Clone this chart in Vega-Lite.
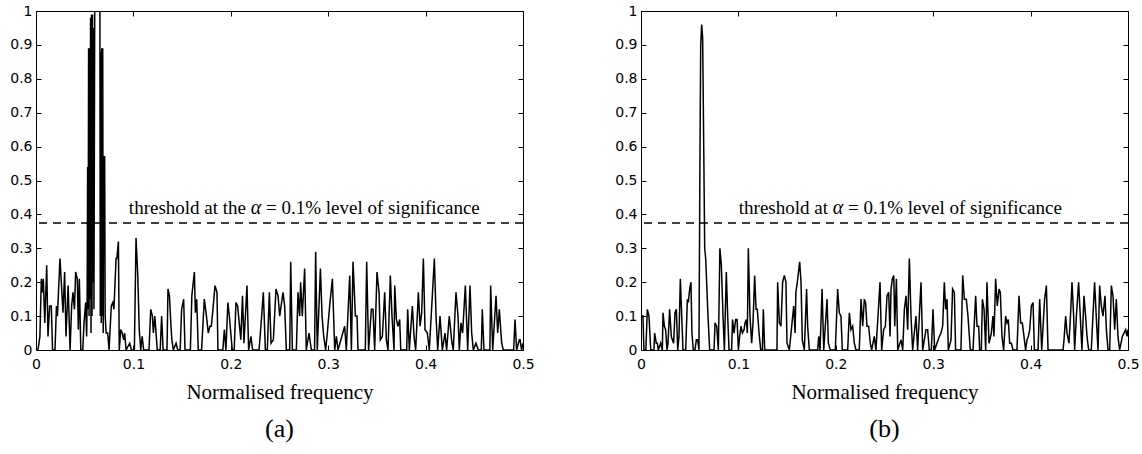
{
"$schema": "https://vega.github.io/schema/vega-lite/v6.json",
"background": "white",
"padding": {"left": 5, "right": 5, "top": 3, "bottom": 5},
"config": {
  "view": {"stroke": "#000", "strokeWidth": 1},
  "axis": {"domain": false, "grid": false, "labelFlush": false, "labelFont": "DejaVu Sans", "labelFontSize": 14, "labelColor": "#000", "tickColor": "#000", "tickSize": -5, "tickWidth": 1, "titleFont": "Liberation Serif", "titleFontSize": 21, "titleFontWeight": "normal", "titleColor": "#000"},
  "title": {"font": "Liberation Serif", "fontSize": 26, "fontWeight": "normal", "color": "#000"}
},
"datasets": {
"thr": [{"threshold": 0.375}],
"a": [
{"f":0,"v":0},{"f":0.002,"v":0},{"f":0.004,"v":0.04},{"f":0.0055,"v":0.21},{"f":0.0065,"v":0.17},{"f":0.0075,"v":0.21},{"f":0.009,"v":0.08},{"f":0.011,"v":0.25},{"f":0.0123,"v":0.04},{"f":0.014,"v":0.13},{"f":0.0157,"v":0.13},{"f":0.017,"v":0},{"f":0.0195,"v":0},{"f":0.021,"v":0.13},{"f":0.022,"v":0.1},{"f":0.0246,"v":0.27},{"f":0.026,"v":0.2},{"f":0.0277,"v":0.11},{"f":0.0294,"v":0.23},{"f":0.0308,"v":0.04},{"f":0.033,"v":0.19},{"f":0.035,"v":0},{"f":0.0366,"v":0.13},{"f":0.038,"v":0.17},{"f":0.0395,"v":0.12},{"f":0.0407,"v":0.23},{"f":0.0424,"v":0.21},{"f":0.0435,"v":0.06},{"f":0.0445,"v":0.21},{"f":0.046,"v":0},{"f":0.048,"v":0},{"f":0.0493,"v":0.08},{"f":0.051,"v":0.14},{"f":0.052,"v":0.04},
{"f":0.0525,"v":0.15},{"f":0.053,"v":0.54},{"f":0.0535,"v":0.12},{"f":0.054,"v":0.89},{"f":0.0545,"v":0.1},{"f":0.055,"v":0.89},{"f":0.0555,"v":0.15},{"f":0.056,"v":0.98},{"f":0.0565,"v":0.05},{"f":0.057,"v":0.99},{"f":0.0575,"v":0.1},{"f":0.058,"v":0.99},{"f":0.0585,"v":0.2},{"f":0.059,"v":0.95},{"f":0.0595,"v":0.12},{"f":0.0605,"v":1.25},{"f":0.062,"v":1.6},{"f":0.0635,"v":1.6},{"f":0.0655,"v":1.25},{"f":0.066,"v":0.1},{"f":0.0665,"v":0.88},{"f":0.067,"v":0.08},{"f":0.0675,"v":0.89},{"f":0.068,"v":0.1},{"f":0.0685,"v":0.89},{"f":0.069,"v":0.05},{"f":0.0695,"v":0.57},{"f":0.0705,"v":0.57},{"f":0.071,"v":0.1},{"f":0.072,"v":0.05},
{"f":0.0736,"v":0.05},{"f":0.075,"v":0},{"f":0.0773,"v":0.13},{"f":0.0788,"v":0.14},{"f":0.08,"v":0.12},{"f":0.0822,"v":0.27},{"f":0.083,"v":0.27},{"f":0.0846,"v":0.32},{"f":0.0855,"v":0},{"f":0.087,"v":0.06},{"f":0.0885,"v":0.05},{"f":0.09,"v":0.03},{"f":0.091,"v":0.05},{"f":0.0925,"v":0},{"f":0.0962,"v":0.02},{"f":0.098,"v":0},{"f":0.101,"v":0},{"f":0.1027,"v":0.33},{"f":0.1045,"v":0.22},{"f":0.106,"v":0.06},{"f":0.1075,"v":0},{"f":0.109,"v":0.04},{"f":0.1105,"v":0},{"f":0.116,"v":0},{"f":0.1178,"v":0.12},{"f":0.1195,"v":0.1},{"f":0.1205,"v":0.05},{"f":0.122,"v":0.1},{"f":0.123,"v":0.06},{"f":0.1245,"v":0},{"f":0.1275,"v":0},{"f":0.129,"v":0.1},{"f":0.1305,"v":0},{"f":0.1345,"v":0},{"f":0.1355,"v":0.18},{"f":0.137,"v":0.16},{"f":0.1386,"v":0.07},{"f":0.1395,"v":0.03},{"f":0.141,"v":0},{"f":0.1438,"v":0.02},{"f":0.1455,"v":0},{"f":0.148,"v":0},{"f":0.1495,"v":0.12},{"f":0.1516,"v":0.15},{"f":0.153,"v":0},{"f":0.1585,"v":0},{"f":0.16,"v":0.16},{"f":0.1626,"v":0.23},{"f":0.1636,"v":0.11},{"f":0.165,"v":0.15},{"f":0.1666,"v":0},{"f":0.17,"v":0},{"f":0.1728,"v":0.15},{"f":0.175,"v":0.1},{"f":0.1769,"v":0.05},{"f":0.1786,"v":0.07},{"f":0.18,"v":0.07},{"f":0.182,"v":0.13},{"f":0.1838,"v":0.19},{"f":0.1858,"v":0.17},{"f":0.1868,"v":0},{"f":0.1918,"v":0},{"f":0.1934,"v":0.06},{"f":0.195,"v":0},{"f":0.197,"v":0.14},{"f":0.1985,"v":0.1},{"f":0.2,"v":0.05},{"f":0.2015,"v":0},{"f":0.2035,"v":0},{"f":0.2053,"v":0.14},{"f":0.207,"v":0.13},{"f":0.209,"v":0.07},{"f":0.2103,"v":0.03},{"f":0.212,"v":0.16},{"f":0.2135,"v":0.02},{"f":0.2166,"v":0.19},{"f":0.2183,"v":0},{"f":0.2207,"v":0.04},{"f":0.2224,"v":0},{"f":0.229,"v":0},{"f":0.2309,"v":0.07},{"f":0.2334,"v":0.17},{"f":0.2355,"v":0},{"f":0.2375,"v":0},{"f":0.2396,"v":0.17},{"f":0.2413,"v":0.02},{"f":0.2437,"v":0.03},{"f":0.2464,"v":0.18},{"f":0.2485,"v":0.16},{"f":0.2502,"v":0.1},{"f":0.2536,"v":0.17},{"f":0.2553,"v":0.13},{"f":0.257,"v":0},{"f":0.2605,"v":0},{"f":0.2615,"v":0.26},{"f":0.2632,"v":0},{"f":0.2673,"v":0},{"f":0.269,"v":0.17},{"f":0.2707,"v":0.1},{"f":0.2717,"v":0.2},{"f":0.2734,"v":0.1},{"f":0.2758,"v":0.24},{"f":0.2775,"v":0},{"f":0.2803,"v":0.05},{"f":0.2827,"v":0},{"f":0.286,"v":0},{"f":0.2871,"v":0.29},{"f":0.2888,"v":0},{"f":0.292,"v":0.24},{"f":0.2937,"v":0.1},{"f":0.2954,"v":0.04},{"f":0.2974,"v":0},{"f":0.2991,"v":0.05},{"f":0.3015,"v":0.13},{"f":0.3043,"v":0.21},{"f":0.3067,"v":0},{"f":0.3084,"v":0.04},{"f":0.3101,"v":0},{"f":0.3169,"v":0.07},{"f":0.3186,"v":0},{"f":0.3221,"v":0.22},{"f":0.3238,"v":0},{"f":0.3255,"v":0.26},{"f":0.3279,"v":0.1},{"f":0.3296,"v":0.1},{"f":0.3306,"v":0},{"f":0.3381,"v":0},{"f":0.3395,"v":0.26},{"f":0.3415,"v":0},{"f":0.3443,"v":0.12},{"f":0.346,"v":0.12},{"f":0.3477,"v":0},{"f":0.3501,"v":0.23},{"f":0.3522,"v":0.17},{"f":0.3535,"v":0.03},{"f":0.3556,"v":0.04},{"f":0.358,"v":0.17},{"f":0.3597,"v":0.03},{"f":0.3614,"v":0},{"f":0.3638,"v":0.22},{"f":0.3655,"v":0.1},{"f":0.3676,"v":0},{"f":0.3683,"v":0.19},{"f":0.37,"v":0.09},{"f":0.3717,"v":0.07},{"f":0.3734,"v":0.09},{"f":0.3745,"v":0},{"f":0.3806,"v":0},{"f":0.3816,"v":0.12},{"f":0.3833,"v":0},{"f":0.3864,"v":0.13},{"f":0.3881,"v":0.04},{"f":0.3898,"v":0},{"f":0.3926,"v":0.17},{"f":0.3943,"v":0.07},{"f":0.396,"v":0.11},{"f":0.3977,"v":0.27},{"f":0.3994,"v":0.06},{"f":0.4018,"v":0.05},{"f":0.4038,"v":0},{"f":0.4069,"v":0.16},{"f":0.409,"v":0.27},{"f":0.4107,"v":0.1},{"f":0.4124,"v":0},{"f":0.4148,"v":0.1},{"f":0.4172,"v":0},{"f":0.4199,"v":0.05},{"f":0.4216,"v":0},{"f":0.4243,"v":0.1},{"f":0.4267,"v":0.03},{"f":0.4284,"v":0},{"f":0.4312,"v":0.17},{"f":0.4333,"v":0.1},{"f":0.4346,"v":0},{"f":0.4363,"v":0.08},{"f":0.438,"v":0.05},{"f":0.4408,"v":0.19},{"f":0.4432,"v":0},{"f":0.4456,"v":0.19},{"f":0.4473,"v":0.05},{"f":0.449,"v":0},{"f":0.4517,"v":0.02},{"f":0.4541,"v":0},{"f":0.4572,"v":0},{"f":0.4582,"v":0.12},{"f":0.4599,"v":0},{"f":0.466,"v":0},{"f":0.4668,"v":0.19},{"f":0.4689,"v":0},{"f":0.4723,"v":0.16},{"f":0.474,"v":0.05},{"f":0.4757,"v":0.12},{"f":0.4781,"v":0.02},{"f":0.4798,"v":0},{"f":0.4904,"v":0},{"f":0.4918,"v":0.09},{"f":0.4935,"v":0},{"f":0.4962,"v":0.03},{"f":0.497,"v":0.03},{"f":0.4986,"v":0},{"f":0.5,"v":0.02}
],
"b": [
{"f":0,"v":0.1},{"f":0.0007,"v":0.1},{"f":0.002,"v":0.1},{"f":0.003,"v":0},{"f":0.005,"v":0},{"f":0.0065,"v":0.12},{"f":0.0082,"v":0.1},{"f":0.01,"v":0},{"f":0.0133,"v":0},{"f":0.014,"v":0.05},{"f":0.0157,"v":0.02},{"f":0.0168,"v":0.02},{"f":0.0178,"v":0},{"f":0.0202,"v":0.02},{"f":0.0219,"v":0},{"f":0.0226,"v":0.11},{"f":0.024,"v":0.07},{"f":0.0253,"v":0.06},{"f":0.0267,"v":0},{"f":0.0277,"v":0.02},{"f":0.0294,"v":0.12},{"f":0.0311,"v":0.04},{"f":0.0322,"v":0.03},{"f":0.0335,"v":0.02},{"f":0.0349,"v":0.11},{"f":0.0363,"v":0.12},{"f":0.0377,"v":0},{"f":0.039,"v":0.04},{"f":0.0404,"v":0.21},{"f":0.0418,"v":0.1},{"f":0.0431,"v":0},{"f":0.0459,"v":0},{"f":0.0476,"v":0.15},{"f":0.0486,"v":0.14},{"f":0.05,"v":0.18},{"f":0.0513,"v":0.2},{"f":0.0523,"v":0.05},{"f":0.0537,"v":0},{"f":0.0554,"v":0},{"f":0.0568,"v":0.03},{"f":0.0582,"v":0.03},{"f":0.0595,"v":0},{"f":0.0606,"v":0.6},{"f":0.0613,"v":0.9},{"f":0.0623,"v":0.96},{"f":0.0633,"v":0.92},{"f":0.0644,"v":0.6},{"f":0.0654,"v":0.3},{"f":0.0664,"v":0.27},{"f":0.0674,"v":0.2},{"f":0.0688,"v":0.1},{"f":0.0705,"v":0},{"f":0.075,"v":0},{"f":0.076,"v":0.08},{"f":0.0777,"v":0.07},{"f":0.0794,"v":0},{"f":0.081,"v":0.3},{"f":0.0825,"v":0.25},{"f":0.0842,"v":0.1},{"f":0.0856,"v":0},{"f":0.0876,"v":0.23},{"f":0.089,"v":0.1},{"f":0.0904,"v":0},{"f":0.093,"v":0},{"f":0.094,"v":0.09},{"f":0.0955,"v":0.05},{"f":0.0972,"v":0.09},{"f":0.0986,"v":0.09},{"f":0.1,"v":0},{"f":0.1013,"v":0.04},{"f":0.1027,"v":0.07},{"f":0.1041,"v":0.05},{"f":0.1058,"v":0.06},{"f":0.1068,"v":0.08},{"f":0.1081,"v":0.09},{"f":0.1092,"v":0.05},{"f":0.1102,"v":0.3},{"f":0.1119,"v":0.1},{"f":0.1136,"v":0.02},{"f":0.115,"v":0.08},{"f":0.1167,"v":0.22},{"f":0.1181,"v":0.12},{"f":0.1194,"v":0.12},{"f":0.1212,"v":0.05},{"f":0.1229,"v":0},{"f":0.1246,"v":0},{"f":0.1256,"v":0.12},{"f":0.127,"v":0},{"f":0.1396,"v":0},{"f":0.1403,"v":0.2},{"f":0.142,"v":0.08},{"f":0.1437,"v":0.07},{"f":0.1454,"v":0.2},{"f":0.1472,"v":0.22},{"f":0.1488,"v":0.2},{"f":0.1499,"v":0.02},{"f":0.1523,"v":0},{"f":0.1568,"v":0.13},{"f":0.1582,"v":0.05},{"f":0.159,"v":0.17},{"f":0.1605,"v":0.2},{"f":0.1629,"v":0.26},{"f":0.1643,"v":0.2},{"f":0.1656,"v":0.03},{"f":0.1677,"v":0},{"f":0.17,"v":0.18},{"f":0.1711,"v":0.07},{"f":0.1728,"v":0},{"f":0.1814,"v":0},{"f":0.1825,"v":0.04},{"f":0.1838,"v":0},{"f":0.1859,"v":0.18},{"f":0.1876,"v":0},{"f":0.191,"v":0.15},{"f":0.1924,"v":0.02},{"f":0.1944,"v":0},{"f":0.1995,"v":0},{"f":0.2019,"v":0.18},{"f":0.2036,"v":0.11},{"f":0.2053,"v":0.1},{"f":0.2067,"v":0},{"f":0.2122,"v":0},{"f":0.2139,"v":0.11},{"f":0.2156,"v":0.06},{"f":0.2173,"v":0.07},{"f":0.219,"v":0.02},{"f":0.2207,"v":0},{"f":0.2241,"v":0},{"f":0.2259,"v":0.15},{"f":0.2276,"v":0.07},{"f":0.2293,"v":0.15},{"f":0.2306,"v":0.14},{"f":0.232,"v":0.07},{"f":0.2337,"v":0.07},{"f":0.2354,"v":0.02},{"f":0.2368,"v":0},{"f":0.2395,"v":0.04},{"f":0.2412,"v":0},{"f":0.2454,"v":0.2},{"f":0.2471,"v":0},{"f":0.2491,"v":0.06},{"f":0.2509,"v":0.07},{"f":0.2526,"v":0.16},{"f":0.2543,"v":0.17},{"f":0.2557,"v":0.04},{"f":0.2567,"v":0.18},{"f":0.2581,"v":0.21},{"f":0.2595,"v":0.22},{"f":0.2605,"v":0.07},{"f":0.2622,"v":0.21},{"f":0.2636,"v":0},{"f":0.267,"v":0.03},{"f":0.2687,"v":0},{"f":0.2704,"v":0.12},{"f":0.2721,"v":0.16},{"f":0.2738,"v":0.06},{"f":0.2755,"v":0.27},{"f":0.2772,"v":0.1},{"f":0.2789,"v":0},{"f":0.2823,"v":0.1},{"f":0.284,"v":0},{"f":0.2875,"v":0.2},{"f":0.2892,"v":0},{"f":0.2926,"v":0.06},{"f":0.2943,"v":0.06},{"f":0.296,"v":0},{"f":0.2981,"v":0},{"f":0.2998,"v":0.12},{"f":0.3015,"v":0},{"f":0.3063,"v":0.04},{"f":0.308,"v":0.05},{"f":0.3097,"v":0.07},{"f":0.3114,"v":0.2},{"f":0.3128,"v":0.12},{"f":0.3142,"v":0.15},{"f":0.3155,"v":0},{"f":0.3183,"v":0.03},{"f":0.3199,"v":0.18},{"f":0.3217,"v":0.17},{"f":0.323,"v":0},{"f":0.3285,"v":0},{"f":0.3303,"v":0.22},{"f":0.332,"v":0.15},{"f":0.334,"v":0.15},{"f":0.3357,"v":0.1},{"f":0.3381,"v":0},{"f":0.3409,"v":0},{"f":0.3436,"v":0.16},{"f":0.345,"v":0.07},{"f":0.3467,"v":0.07},{"f":0.3477,"v":0},{"f":0.3494,"v":0},{"f":0.3505,"v":0.15},{"f":0.3522,"v":0.12},{"f":0.3539,"v":0},{"f":0.3552,"v":0.2},{"f":0.3573,"v":0.02},{"f":0.3597,"v":0.05},{"f":0.3614,"v":0.1},{"f":0.3624,"v":0.04},{"f":0.3641,"v":0.21},{"f":0.3658,"v":0.13},{"f":0.3676,"v":0.18},{"f":0.3689,"v":0.17},{"f":0.3706,"v":0.04},{"f":0.3723,"v":0},{"f":0.3744,"v":0.1},{"f":0.3758,"v":0.08},{"f":0.3771,"v":0.09},{"f":0.3785,"v":0.02},{"f":0.3802,"v":0.02},{"f":0.3819,"v":0},{"f":0.386,"v":0},{"f":0.3881,"v":0.16},{"f":0.3898,"v":0.08},{"f":0.3915,"v":0.08},{"f":0.3932,"v":0.04},{"f":0.3949,"v":0},{"f":0.3963,"v":0.03},{"f":0.3977,"v":0.04},{"f":0.3991,"v":0.06},{"f":0.4008,"v":0.13},{"f":0.4025,"v":0.14},{"f":0.4039,"v":0},{"f":0.4077,"v":0},{"f":0.4093,"v":0.15},{"f":0.4114,"v":0},{"f":0.4144,"v":0.15},{"f":0.4162,"v":0.19},{"f":0.4179,"v":0},{"f":0.4333,"v":0},{"f":0.4343,"v":0.03},{"f":0.436,"v":0.1},{"f":0.4374,"v":0.05},{"f":0.4394,"v":0.02},{"f":0.4411,"v":0.11},{"f":0.4425,"v":0.2},{"f":0.4442,"v":0.1},{"f":0.4452,"v":0},{"f":0.447,"v":0.1},{"f":0.4493,"v":0.2},{"f":0.451,"v":0.1},{"f":0.4527,"v":0},{"f":0.4548,"v":0.16},{"f":0.4565,"v":0.1},{"f":0.4579,"v":0.04},{"f":0.4596,"v":0},{"f":0.4623,"v":0},{"f":0.4657,"v":0.2},{"f":0.4674,"v":0.1},{"f":0.4692,"v":0},{"f":0.4709,"v":0.19},{"f":0.4726,"v":0.13},{"f":0.4743,"v":0.1},{"f":0.4764,"v":0.16},{"f":0.4778,"v":0.06},{"f":0.4795,"v":0},{"f":0.4812,"v":0},{"f":0.4829,"v":0.19},{"f":0.4846,"v":0.16},{"f":0.4863,"v":0.06},{"f":0.488,"v":0.15},{"f":0.4897,"v":0.04},{"f":0.4914,"v":0},{"f":0.4942,"v":0.04},{"f":0.4959,"v":0.05},{"f":0.4976,"v":0.06},{"f":0.499,"v":0.04},{"f":0.5,"v":0.06}
]
},
"spacing": 118,
"bounds": "flush",
"hconcat": [
{
  "width": 487, "height": 339,
  "title": {"text": "(a)", "orient": "bottom", "offset": 14},
  "resolve": {"axis": {"x": "independent", "y": "independent"}},
  "layer": [
    {"data": {"name": "a"}, "mark": {"type": "line", "color": "#000", "strokeWidth": 1.5, "clip": true},
     "encoding": {
       "x": {"field": "f", "type": "quantitative", "scale": {"domain": [0, 0.5], "nice": false}, "axis": {"orient": "bottom", "values": [0, 0.1, 0.2, 0.3, 0.4, 0.5], "format": "~g", "labelPadding": 12, "title": "Normalised frequency", "titlePadding": 10}},
       "y": {"field": "v", "type": "quantitative", "scale": {"domain": [0, 1], "nice": false}, "axis": {"orient": "left", "values": [0, 0.1, 0.2, 0.3, 0.4, 0.5, 0.6, 0.7, 0.8, 0.9, 1], "format": "~g", "labelPadding": 9, "title": null, "minExtent": 30, "maxExtent": 30}}
     }},
    {"data": {"name": "thr"}, "mark": {"type": "rule", "color": "#000", "strokeWidth": 1.5, "strokeDash": [8, 6]},
     "encoding": {
       "y": {"field": "threshold", "type": "quantitative", "scale": {"domain": [0, 1], "nice": false}, "axis": {"orient": "right", "labels": false, "values": [0, 0.1, 0.2, 0.3, 0.4, 0.5, 0.6, 0.7, 0.8, 0.9, 1], "title": null}}
     }},
    {"data": {"name": "thr"}, "mark": {"type": "text", "font": "Liberation Serif", "fontSize": 19, "align": "right", "baseline": "alphabetic", "color": "#000"},
     "encoding": {
       "x": {"datum": 0.2156, "type": "quantitative", "scale": {"domain": [0, 0.5], "nice": false}, "axis": {"orient": "top", "labels": false, "values": [0, 0.1, 0.2, 0.3, 0.4, 0.5], "title": null}},
       "y": {"datum": 0.4, "type": "quantitative", "scale": {"domain": [0, 1], "nice": false}, "axis": null},
       "text": {"value": "threshold at the"}
     }},
    {"data": {"name": "thr"}, "mark": {"type": "text", "font": "Liberation Serif", "fontSize": 20, "fontStyle": "italic", "align": "center", "baseline": "alphabetic", "color": "#000"},
     "encoding": {
       "x": {"datum": 0.2259, "type": "quantitative", "scale": {"domain": [0, 0.5], "nice": false}, "axis": null},
       "y": {"datum": 0.4, "type": "quantitative", "scale": {"domain": [0, 1], "nice": false}, "axis": null},
       "text": {"value": "α"}
     }},
    {"data": {"name": "thr"}, "mark": {"type": "text", "font": "Liberation Serif", "fontSize": 19, "align": "left", "baseline": "alphabetic", "color": "#000"},
     "encoding": {
       "x": {"datum": 0.2361, "type": "quantitative", "scale": {"domain": [0, 0.5], "nice": false}, "axis": null},
       "y": {"datum": 0.4, "type": "quantitative", "scale": {"domain": [0, 1], "nice": false}, "axis": null},
       "text": {"value": "= 0.1% level of significance"}
     }}
  ]
},
{
  "width": 487, "height": 339,
  "title": {"text": "(b)", "orient": "bottom", "offset": 14},
  "resolve": {"axis": {"x": "independent", "y": "independent"}},
  "layer": [
    {"data": {"name": "b"}, "mark": {"type": "line", "color": "#000", "strokeWidth": 1.5, "clip": true},
     "encoding": {
       "x": {"field": "f", "type": "quantitative", "scale": {"domain": [0, 0.5], "nice": false}, "axis": {"orient": "bottom", "values": [0, 0.1, 0.2, 0.3, 0.4, 0.5], "format": "~g", "labelPadding": 12, "title": "Normalised frequency", "titlePadding": 10}},
       "y": {"field": "v", "type": "quantitative", "scale": {"domain": [0, 1], "nice": false}, "axis": {"orient": "left", "values": [0, 0.1, 0.2, 0.3, 0.4, 0.5, 0.6, 0.7, 0.8, 0.9, 1], "format": "~g", "labelPadding": 9, "title": null, "minExtent": 30, "maxExtent": 30}}
     }},
    {"data": {"name": "thr"}, "mark": {"type": "rule", "color": "#000", "strokeWidth": 1.5, "strokeDash": [8, 6]},
     "encoding": {
       "y": {"field": "threshold", "type": "quantitative", "scale": {"domain": [0, 1], "nice": false}, "axis": {"orient": "right", "labels": false, "values": [0, 0.1, 0.2, 0.3, 0.4, 0.5, 0.6, 0.7, 0.8, 0.9, 1], "title": null}}
     }},
    {"data": {"name": "thr"}, "mark": {"type": "text", "font": "Liberation Serif", "fontSize": 19, "align": "right", "baseline": "alphabetic", "color": "#000"},
     "encoding": {
       "x": {"datum": 0.192, "type": "quantitative", "scale": {"domain": [0, 0.5], "nice": false}, "axis": {"orient": "top", "labels": false, "values": [0, 0.1, 0.2, 0.3, 0.4, 0.5], "title": null}},
       "y": {"datum": 0.4, "type": "quantitative", "scale": {"domain": [0, 1], "nice": false}, "axis": null},
       "text": {"value": "threshold at"}
     }},
    {"data": {"name": "thr"}, "mark": {"type": "text", "font": "Liberation Serif", "fontSize": 20, "fontStyle": "italic", "align": "center", "baseline": "alphabetic", "color": "#000"},
     "encoding": {
       "x": {"datum": 0.2023, "type": "quantitative", "scale": {"domain": [0, 0.5], "nice": false}, "axis": null},
       "y": {"datum": 0.4, "type": "quantitative", "scale": {"domain": [0, 1], "nice": false}, "axis": null},
       "text": {"value": "α"}
     }},
    {"data": {"name": "thr"}, "mark": {"type": "text", "font": "Liberation Serif", "fontSize": 19, "align": "left", "baseline": "alphabetic", "color": "#000"},
     "encoding": {
       "x": {"datum": 0.2125, "type": "quantitative", "scale": {"domain": [0, 0.5], "nice": false}, "axis": null},
       "y": {"datum": 0.4, "type": "quantitative", "scale": {"domain": [0, 1], "nice": false}, "axis": null},
       "text": {"value": "= 0.1% level of significance"}
     }}
  ]
}
]
}
